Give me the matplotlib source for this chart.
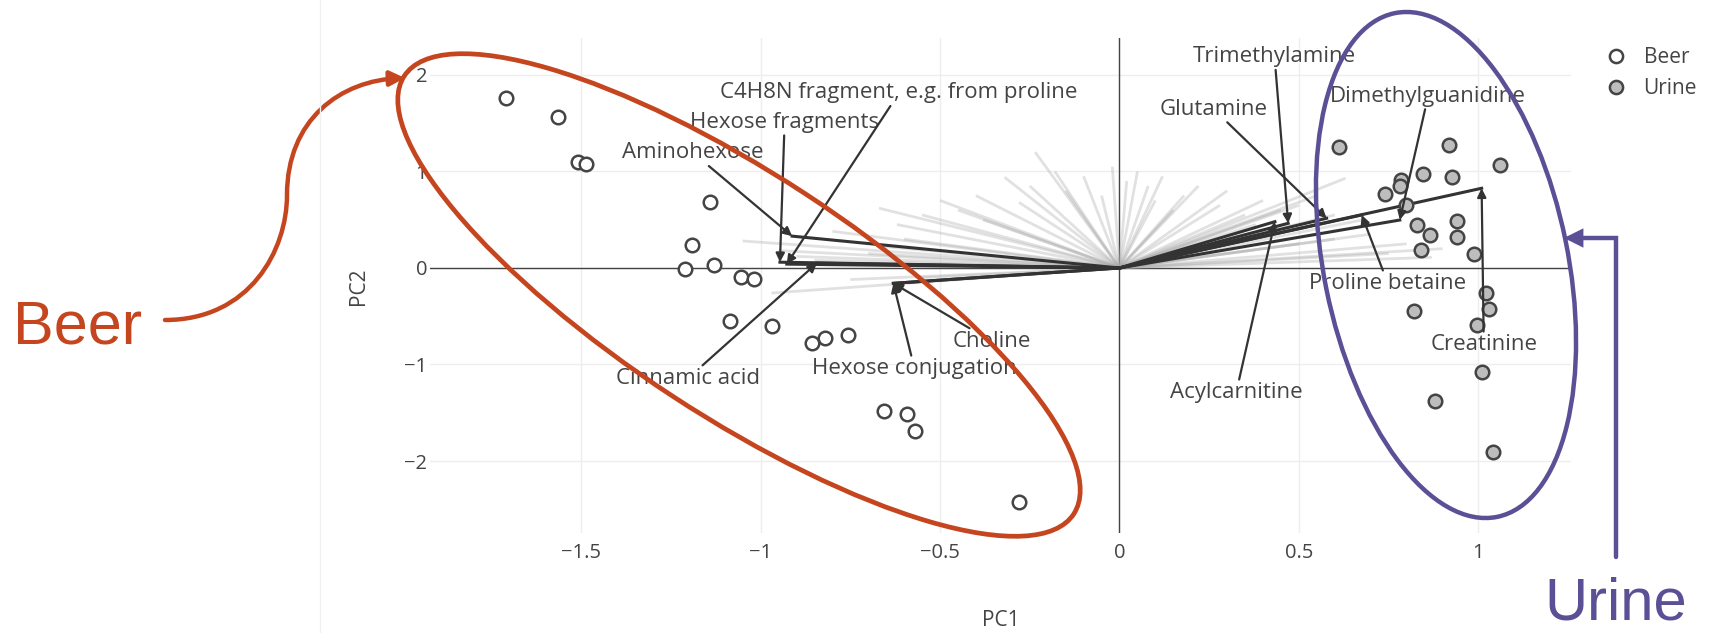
#!/usr/bin/env python3
"""
PCA biplot of beer vs urine samples, with hand-drawn style call-outs
"""

import matplotlib
matplotlib.use('Agg')
import matplotlib.pyplot as plt
from matplotlib.lines import Line2D
from matplotlib.patches import Ellipse, FancyArrowPatch
from matplotlib.path import Path

# sample scores
beer_pc1 = [-1.71, -1.565, -1.51, -1.486, -1.14, -1.19, -1.21, -1.13, -1.054, -1.018,
            -1.085, -0.967, -0.858, -0.82, -0.755, -0.656, -0.592, -0.571, -0.281]
beer_pc2 = [1.76, 1.56, 1.10, 1.08, 0.68, 0.24, -0.01, 0.03, -0.09, -0.11,
            -0.545, -0.60, -0.78, -0.73, -0.69, -1.48, -1.51, -1.69, -2.42]

urine_pc1 = [0.613, 0.918, 1.06, 0.785, 0.846, 0.927, 0.782, 0.74, 0.797, 0.83, 0.864,
             0.84, 0.94, 0.94, 0.988, 1.02, 1.03, 0.997, 0.82, 1.01, 0.88, 1.04]
urine_pc2 = [1.25, 1.27, 1.07, 0.91, 0.97, 0.94, 0.85, 0.77, 0.65, 0.45, 0.34,
             0.19, 0.49, 0.32, 0.15, -0.26, -0.43, -0.59, -0.45, -1.08, -1.375, -1.91]

# all other (unlabelled) loadings, drawn faint
gray_x = [-1.05, -0.95, -0.90, -0.85, -0.97, -0.75, -0.55, -0.70, -0.65, -0.60, -0.67, -0.55,
          -0.50, -0.45, -0.40, -0.32, -0.235, -0.25, -0.18, -0.15, -0.10, -0.05, -0.02, 0.02,
          0.05, 0.08, 0.10, 0.12, 0.18, 0.22, 0.28, 0.30, 0.35, 0.40, 0.45, 0.50, 0.55, 0.63,
          0.60, 0.70, 0.80, 0.87, 0.75, 0.60, 0.90, 0.50,
          -0.80, -0.62, -0.38, -0.28, 0.15, 0.38, 0.52, 0.68]
gray_y = [0.28, 0.18, 0.12, 0.08, -0.26, -0.12, -0.10, 0.15, 0.22, 0.30, 0.62, 0.55,
          0.70, 0.60, 0.75, 0.94, 1.20, 0.85, 1.00, 0.80, 0.95, 0.75, 1.05, 0.90,
          1.00, 0.85, 0.70, 0.95, 0.75, 0.85, 0.65, 0.80, 0.55, 0.70, 0.60, 0.65, 0.75, 0.93,
          0.55, 0.35, 0.25, 0.11, 0.15, 0.30, 0.20, 0.25,
          0.38, 0.45, 0.50, 0.68, 0.60, 0.45, 0.42, 0.50]

# labelled loadings: name, loading tip, label position
load_names = ['Aminohexose', 'Hexose fragments', 'C4H8N fragment, e.g. from proline',
              'Cinnamic acid', 'Hexose conjugation', 'Choline',
              'Trimethylamine', 'Glutamine', 'Dimethylguanidine',
              'Proline betaine', 'Creatinine', 'Acylcarnitine']
load_x = [-0.912, -0.946, -0.927, -0.843, -0.63, -0.63,
          0.470, 0.577, 0.781, 0.675, 1.009, 0.433]
load_y = [0.33, 0.06, 0.04, 0.05, -0.159, -0.159,
          0.463, 0.515, 0.497, 0.549, 0.826, 0.48]
label_x = [-1.188, -0.933, -0.614, -1.203, -0.571, -0.355,
           0.432, 0.262, 0.860, 0.748, 1.015, 0.325]
label_y = [1.194, 1.511, 1.816, -1.146, -1.045, -0.762,
           2.19, 1.647, 1.782, -0.163, -0.796, -1.293]

FIG_W, FIG_H = 1711, 633
TXT = '#444444'
RED = '#C5451F'
PURPLE = '#5B4F96'

plt.rcParams['font.family'] = ['Open Sans', 'DejaVu Sans']

fig = plt.figure(figsize=(FIG_W / 100, FIG_H / 100), dpi=100)
fig.patch.set_facecolor('white')

# main plot area (pixels: left 430, right 1571, top 38, bottom 533)
ax = fig.add_axes([430 / FIG_W, 100 / FIG_H, 1141 / FIG_W, 495 / FIG_H])
ax.set_xlim(-1.921, 1.258)
ax.set_ylim(-2.746, 2.383)
for s in ax.spines.values():
    s.set_visible(False)

ax.set_xticks([-1.5, -1, -0.5, 0, 0.5, 1])
ax.set_xticklabels(['\u22121.5', '\u22121', '\u22120.5', '0', '0.5', '1'])
ax.set_yticks([-2, -1, 0, 1, 2])
ax.set_yticklabels(['\u22122', '\u22121', '0', '1', '2'])
ax.tick_params(length=0, labelsize=14.5, labelcolor=TXT)
ax.tick_params(axis='x', pad=7)
ax.tick_params(axis='y', pad=2)
ax.grid(True, color='#eeeeee', lw=1)
ax.set_axisbelow(True)
ax.axhline(0, color=TXT, lw=1, zorder=1)
ax.axvline(0, color=TXT, lw=1, zorder=1)

# faint loadings
for gx, gy in zip(gray_x, gray_y):
    ax.plot([0, gx], [0, gy], color='#aaaaaa', alpha=0.35, lw=2, zorder=2,
            solid_capstyle='butt')

# labelled loadings
for lx, ly in zip(load_x, load_y):
    ax.plot([0, lx], [0, ly], color='#333333', lw=2.2, zorder=3)

ax.scatter(beer_pc1, beer_pc2, s=95, facecolor='white', edgecolor=TXT, lw=1.8,
           zorder=4, label='Beer')
ax.scatter(urine_pc1, urine_pc2, s=95, facecolor='#bdbdbd', edgecolor=TXT, lw=1.8,
           zorder=4, label='Urine')

for name, lx, ly, tx, ty in zip(load_names, load_x, load_y, label_x, label_y):
    ax.annotate(name, xy=(lx, ly), xytext=(tx, ty), ha='center', va='center',
                fontsize=16, color=TXT, zorder=5,
                arrowprops=dict(arrowstyle='-|>', color='#333333', lw=1.6,
                                mutation_scale=13, shrinkA=0, shrinkB=0))

fig.text(1001 / FIG_W, 1 - 621 / FIG_H, 'PC1', ha='center', va='center',
         fontsize=15, color=TXT)
fig.text(358 / FIG_W, 1 - 286 / FIG_H, 'PC2', ha='center', va='center',
         fontsize=15, color=TXT, rotation=90)

handles = [Line2D([], [], ls='none', marker='o', ms=9.5, mfc='white', mec=TXT, mew=1.8),
           Line2D([], [], ls='none', marker='o', ms=9.5, mfc='#bdbdbd', mec=TXT, mew=1.8)]
fig.legend(handles, ['Beer', 'Urine'], loc='upper left',
           bbox_to_anchor=(1606 / FIG_W, 1 - 47 / FIG_H), frameon=False,
           fontsize=15, labelcolor=TXT, borderpad=0, borderaxespad=0,
           handlelength=1.0, handletextpad=0.8, labelspacing=0.5)

# overlay in pixel coordinates for the call-outs
ov = fig.add_axes([0, 0, 1, 1], zorder=10)
ov.set_xlim(0, FIG_W)
ov.set_ylim(FIG_H, 0)
ov.axis('off')
ov.patch.set_alpha(0)

ov.plot([320, 320], [0, FIG_H], color='#f0f0f0', lw=1)

ov.add_patch(Ellipse((739, 295), 800, 242, angle=33.2, fill=False, ec=RED, lw=3.4))
ov.add_patch(Ellipse((1446, 265), 514, 244, angle=78.5, fill=False, ec=PURPLE, lw=3.2))

beer_path = Path([(165, 320), (250, 320), (287, 250), (287, 195),
                  (287, 120), (340, 80), (405, 78)],
                 [Path.MOVETO, Path.CURVE4, Path.CURVE4, Path.CURVE4,
                  Path.CURVE4, Path.CURVE4, Path.CURVE4])
ov.add_patch(FancyArrowPatch(path=beer_path, arrowstyle='-|>', color=RED, lw=3.2,
                             mutation_scale=22))

urine_path = Path([(1616, 557), (1616, 238), (1564, 238)],
                  [Path.MOVETO, Path.LINETO, Path.LINETO])
ov.add_patch(FancyArrowPatch(path=urine_path, arrowstyle='-|>', color=PURPLE, lw=3.2,
                             mutation_scale=22, joinstyle='miter'))

ov.text(13, 343, 'Beer', fontsize=44, color=RED, va='baseline', ha='left',
        family='Liberation Sans')
ov.text(1544, 619, 'Urine', fontsize=43, color=PURPLE, va='baseline', ha='left',
        family='Liberation Sans')

fig.savefig('out.png', dpi=100)
